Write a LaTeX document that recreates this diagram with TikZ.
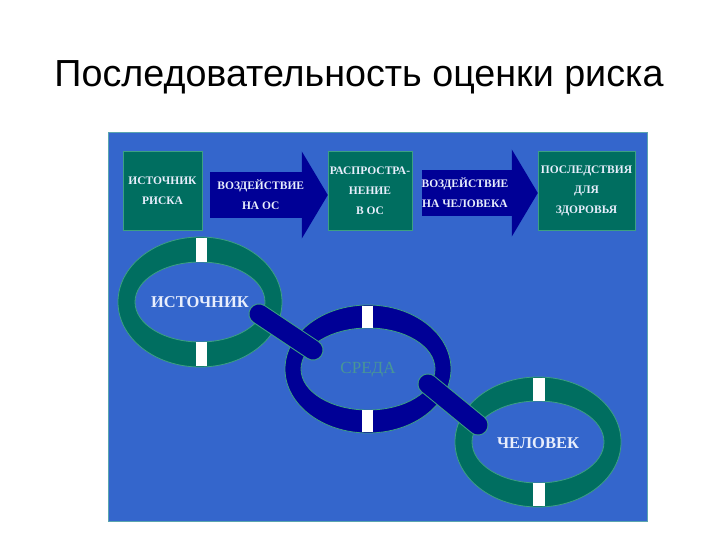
\documentclass[tikz,border=0pt]{standalone}
\usepackage{fontspec}
\setmainfont{Liberation Serif}
\newfontfamily\titlefont{Liberation Sans}
\usetikzlibrary{arrows.meta, positioning}

\definecolor{panelblue}{RGB}{52,102,204}
\definecolor{paneledge}{RGB}{90,165,175}
\definecolor{tealfill}{RGB}{0,110,96}
\definecolor{tealedge}{RGB}{60,160,130}
\definecolor{navy}{RGB}{0,0,150}
\definecolor{lighttext}{RGB}{232,238,252}
\definecolor{mediumtext}{RGB}{72,150,150}

\begin{document}
\begin{tikzpicture}[
  x=1pt, y=-1pt,
  every node/.style={font=\bfseries\fontsize{11.5}{20}\selectfont, text=lighttext, align=center},
  box/.style={rectangle, draw=tealedge, fill=tealfill, minimum height=79pt, inner sep=0pt},
  flow/.style={line width=46pt, draw=navy, -{Triangle[length=26pt, width=86pt]}},
  ring/.style={fill=#1, draw=tealedge, line width=0.8pt, even odd rule},
  gap/.style={fill=white},
  link/.style={line width=19pt, line cap=round, draw=navy,
    preaction={draw=tealedge, line width=21pt, line cap=round}},
  ringlabel/.style={font=\bfseries\fontsize{16.5}{18}\selectfont}
]
\useasboundingbox (0,0) rectangle (720,540);

% Title
\node[font=\titlefont\fontsize{37.7}{40}\selectfont, text=black, anchor=base] (title) at (359,87)
  {Последовательность оценки риска};

% Panel
\filldraw[fill=panelblue, draw=paneledge, line width=1pt] (108,133) rectangle (647,521);

% Boxes
\node[box, minimum width=79pt] (source) at (162.5,190.5) {ИСТОЧНИК\\РИСКА};
\node[box, minimum width=84pt] (spread) at (370,190.5) {РАСПРОСТРА-\\НЕНИЕ\\В ОС};
\node[box, minimum width=97pt] (effect) at (586.5,190.5) {ПОСЛЕДСТВИЯ\\ДЛЯ\\ЗДОРОВЬЯ};

% Flow arrows
\draw[flow] ([xshift=8pt, yshift=-4.5pt]source.east) -- ([yshift=-4.5pt]spread.west)
  node[pos=0.43] (flowA) {ВОЗДЕЙСТВИЕ\\НА ОС};
\draw[flow] ([xshift=10pt, yshift=-2.5pt]spread.east) -- ([yshift=-2.5pt]effect.west)
  node[pos=0.37] (flowB) {ВОЗДЕЙСТВИЕ\\НА ЧЕЛОВЕКА};

% Rings
\path[ring=tealfill] (200,302) ellipse [x radius=82, y radius=65]
  (200,302) ellipse [x radius=65, y radius=40];
\path[ring=navy] (368,369) ellipse [x radius=83, y radius=64]
  (368,369) ellipse [x radius=67, y radius=41];
\path[ring=tealfill] (538,442) ellipse [x radius=83, y radius=65]
  (538,442) ellipse [x radius=66, y radius=41];

% White gaps
\fill[gap] (196,237.6) rectangle (207,261.6);
\fill[gap] (196,342.4) rectangle (207,366.4);
\fill[gap] (362,305.6) rectangle (373,327.6);
\fill[gap] (362,410.4) rectangle (373,432.4);
\fill[gap] (533,377.6) rectangle (545,400.6);
\fill[gap] (533,483.4) rectangle (545,506.4);

% Ring labels
\node[ringlabel] (man) at (200,302) {ИСТОЧНИК};
\node[ringlabel, font=\fontsize{17}{18}\selectfont, text=mediumtext] (medium) at (368,370) {СРЕДА};
\node[ringlabel] (human) at (538,443) {ЧЕЛОВЕК};

% Links
\coordinate (linkAa) at (259,314);
\coordinate (linkAb) at (313,350);
\coordinate (linkBa) at (428,384);
\coordinate (linkBb) at (478,425);
\draw[link] (linkAa) -- (linkAb);
\draw[link] (linkBa) -- (linkBb);

\end{tikzpicture}
\end{document}
